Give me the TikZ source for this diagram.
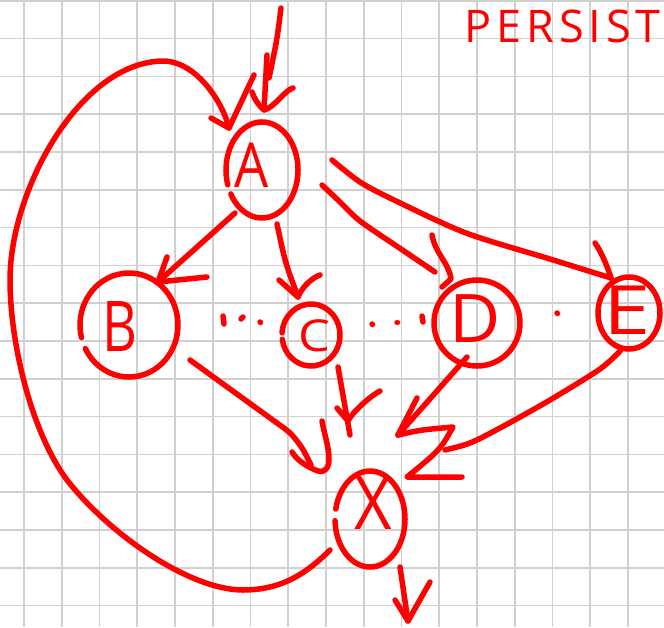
\documentclass[tikz,border=0pt]{standalone}
\usepackage{fontspec}
\usepackage{graphicx}
\setmainfont{Open Sans}
\usetikzlibrary{shapes.geometric,calc}
\definecolor{ink}{RGB}{255,0,0}
\definecolor{gridgray}{RGB}{208,208,208}
\tikzset{
  pen/.style={draw=ink, line width=5.5pt, line cap=round, line join=round},
  ring/.style={ellipse, inner sep=0pt, outer sep=0pt},
  glyph/.style={text=ink, inner sep=0pt, anchor=center},
  gridline/.style={draw=gridgray, line width=1.6pt},
}
% open hand-drawn outline around a node: name, x radius, y radius, start, end
\newcommand\ringarc[5]{\draw[pen] (#1.center) ++(#4:#2 and #3) arc[start angle=#4, end angle=#5, x radius=#2, y radius=#3];}
% letter at a given horizontal squeeze and size
\newcommand\hand[3]{\fontsize{#2}{#2}\selectfont\scalebox{#1}[1]{#3}}
\begin{document}
\begin{tikzpicture}[x=1pt,y=-1pt]
\useasboundingbox (0,0) rectangle (664,627);
\fill[white] (0,0) rectangle (664,627);
\clip (0,0) rectangle (664,627);

% squared paper
\foreach \k in {0,...,16} \draw[gridline] ({24+37.75*\k},0) -- ({24+37.75*\k},627);
\foreach \k in {0,...,16} \draw[gridline] (0,{0.8+37.8*\k}) -- (664,{0.8+37.8*\k});

% nodes
\node[ring, minimum width=72pt, minimum height=96pt] (A) at (262,170) {};
\node[ring, minimum width=98pt, minimum height=104pt] (B) at (129,325) {};
\node[ring, minimum width=58pt, minimum height=62pt] (C) at (311,335) {};
\node[ring, minimum width=86pt, minimum height=86pt] (D) at (477,323) {};
\node[ring, minimum width=62pt, minimum height=72pt] (E) at (629,313) {};
\node[ring, minimum width=70pt, minimum height=96pt] (X) at (370,519) {};

\ringarc{A}{36}{48}{162}{510}
\ringarc{B}{49}{52}{166}{513}
\ringarc{C}{29}{31}{184}{532}
\ringarc{D}{43}{43}{0}{360}
\ringarc{E}{31}{36}{0}{360}
\ringarc{X}{35}{48}{192}{538}

\node[glyph] (Al) at (252,165) {\hand{0.87}{62}{A}};
\node[glyph] (Bl) at (120,327) {\hand{0.77}{70}{B}};
\node[glyph] (Cl) at (314,336) {\hand{1.15}{44}{C}};
\node[glyph] (Dl) at (475,319) {\hand{1.05}{67}{D}};
\node[glyph] (El) at (627,310) {\hand{1.25}{68}{E}};
\node[glyph] (Xl) at (373,503) {\hand{0.88}{74}{X}};

\node[text=ink, anchor=base east, inner sep=0pt,
      font=\fontsize{45}{45}\selectfont\addfontfeature{LetterSpace=11}] (title) at (661,42) {PERSIST};

% connector end points
\coordinate (inTop) at (281,8);
\coordinate (tipIn) at ($(A)+(2,-60)$);
\coordinate (loopS) at ($(X)+(-40,31)$);
\coordinate (tipXA) at ($(A)+(-33,-42)$);
\coordinate (sAB) at ($(A)+(-27,43)$);
\coordinate (tipAB) at ($(B)+(29,-43)$);
\coordinate (sAC) at ($(A)+(15,54)$);
\coordinate (tipAC) at ($(C)+(-13,-38)$);
\coordinate (sAD) at ($(A)+(60,15)$);
\coordinate (eAD) at ($(D)+(-42,-51)$);
\coordinate (tipAD) at ($(D)+(-26,-44)$);
\coordinate (sAE) at ($(A)+(70,-10)$);
\coordinate (tipAE) at ($(E)+(-18,-35)$);
\coordinate (sBX) at ($(B)+(61,35)$);
\coordinate (tipBX) at ($(X)+(-52,-48)$);
\coordinate (sCX) at ($(C)+(27,32)$);
\coordinate (eCX) at ($(X)+(-20,-84)$);
\coordinate (tipCX) at ($(X)+(-22,-98)$);
\coordinate (sDX) at ($(D)+(-10,34)$);
\coordinate (tipDX) at ($(X)+(28,-84)$);
\coordinate (sEX) at ($(E)+(-8,37)$);
\coordinate (eEX) at ($(X)+(75,-69)$);
\coordinate (tipEX) at ($(X)+(37,-42)$);
\coordinate (sXo) at ($(X)+(30,48)$);
\coordinate (tipXo) at ($(X)+(38,102)$);

% incoming arrow into A
\draw[pen] (inTop) .. controls (277,40) .. (269,78);
\draw[pen] (267,55) -- (tipIn);
\draw[pen] (tipIn) ++(-12,-18) .. controls +(3,8) and +(-5,-4) .. (tipIn)
           .. controls +(10,-2) and +(-8,2) .. ++(29,-22);

% long loop from X back to A
\draw[pen] (loopS) .. controls (305,575) and (280,590) .. (243,590)
                  .. controls (190,590) and (110,535) .. (67,480)
                  .. controls (30,430) and (10,340) .. (10,280)
                  .. controls (10,190) and (80,62) .. (163,61)
                  .. controls (195,61) and (222,100) .. (tipXA);
\draw[pen] (tipXA) ++(-18,-10) -- (tipXA) -- ++(25,-53);

% A -> B
\draw[pen] (sAB) -- (tipAB);
\draw[pen] (tipAB) ++(9,-25) -- (tipAB) -- ++(49,-5);

% A -> C
\draw[pen] (sAC) .. controls (285,262) .. (tipAC);
\draw[pen] (tipAC) ++(-19,-17) -- (tipAC) .. controls +(5,-12) and +(-6,2) .. ++(22,-22);

% A -> D
\draw[pen] plot[smooth] coordinates {(sAD) (339,201) (360,221) (398,247) (eAD)};
\draw[pen] (tipAD) ++(-19,-44) .. controls +(3,18) and +(-2,-16) .. (tipAD) -- ++(-9,8);

% A -> E
\draw[pen] plot[smooth] coordinates {(sAE) (360,182) (394,200) (466,233) (550,259) (tipAE)};
\draw[pen] (tipAE) ++(-16,-35) .. controls +(6,8) and +(-3,-10) .. (tipAE);

% B -> X
\draw[pen] plot[smooth] coordinates {(sBX) (230,389) (270,418) (290,433) (302,448) (311,465)};
\draw[pen] (tipBX) ++(-26,-19) .. controls +(6,10) and +(-8,-3) .. (tipBX)
           .. controls +(8,2) and +(0,8) .. ++(11,-12)
           .. controls +(0,-12) and +(2,12) .. ++(-7,-38);

% C -> X
\draw[pen] (sCX) -- (eCX);
\draw[pen] (tipCX) ++(-11,-13) -- (tipCX) .. controls +(5,-10) and +(-8,4) .. ++(32,-30);

% D -> X
\draw[pen] (sDX) -- (tipDX);
\draw[pen] (tipDX) ++(19,-37) -- (tipDX);

% E -> X
\draw[pen] plot[smooth] coordinates {(sEX) (600,369) (550,400) (500,428) (470,443) (eEX)};

% shared heads of D -> X and E -> X
\draw[pen] (tipDX) .. controls (420,430) .. (453,427) .. controls (440,450) .. (tipEX) -- ++(55,0);

% outgoing arrow from X
\draw[pen] (sXo) -- (tipXo);
\draw[pen] (tipXo) ++(-13,-21) -- (tipXo) -- ++(22,-39);

% dots between the middle nodes
\draw[pen] (223,316) -- (224,324);
\draw[pen] (241,319) -- (243,317);
\draw[pen] (260,322) -- (260.5,322.5);
\draw[pen] (372,324) -- (372.5,324.5);
\draw[pen] (397,322.5) -- (397.5,322.5);
\draw[pen] (422,316) -- (423,322);
\draw[pen] (557,313) -- (557.5,313.5);
\end{tikzpicture}
\end{document}
